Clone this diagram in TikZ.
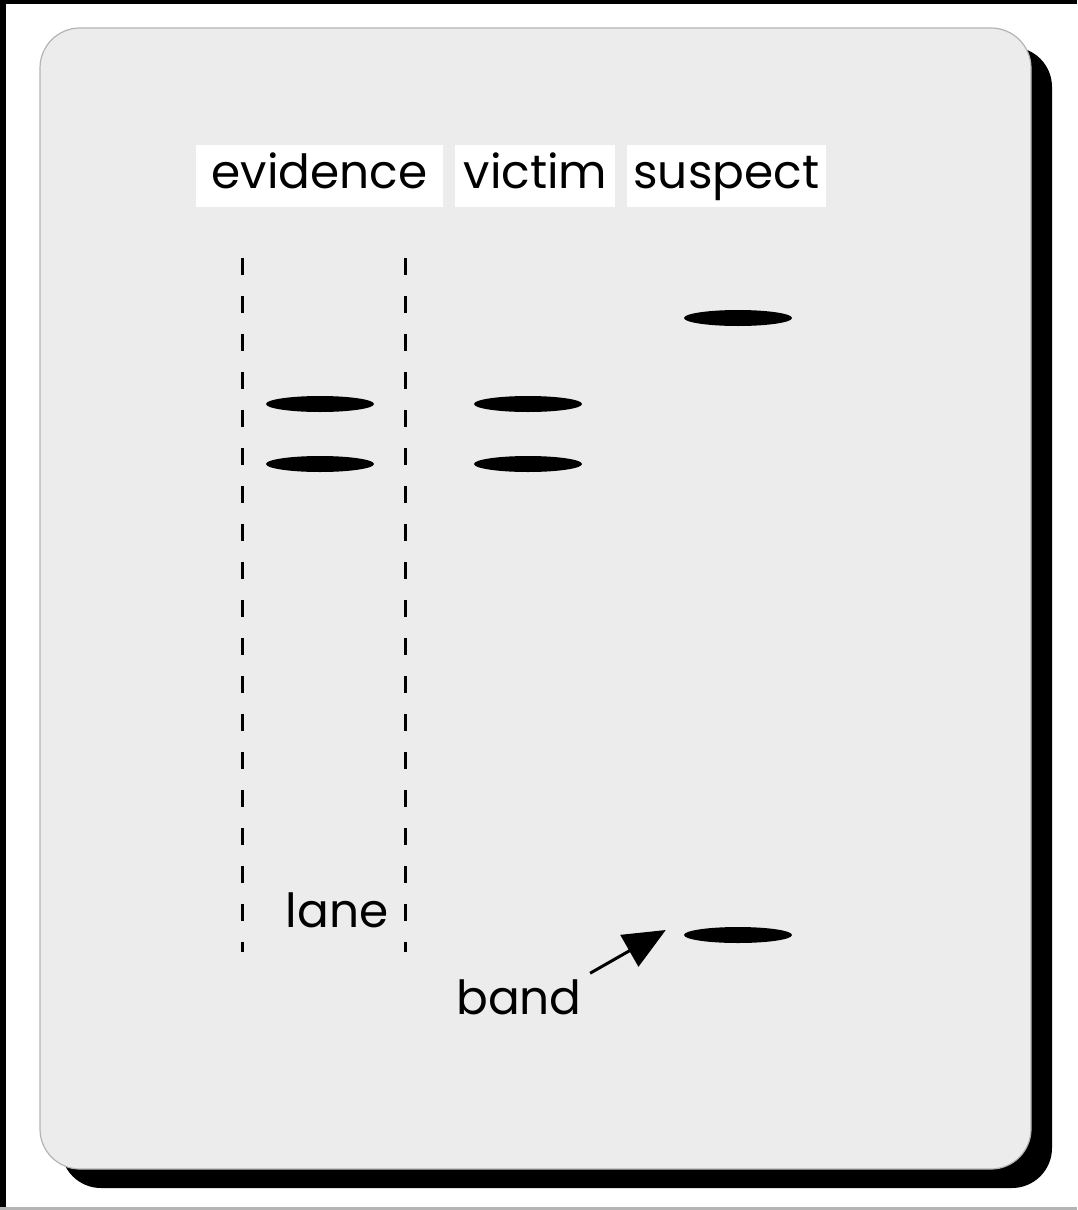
\documentclass[tikz,border=0pt]{standalone}
\usepackage{fontspec}
\setmainfont{Poppins}
\usetikzlibrary{arrows.meta,positioning,shapes.geometric}
\definecolor{panelgray}{HTML}{ECECEC}
\definecolor{edgegray}{HTML}{B4B4B4}

\begin{document}
\begin{tikzpicture}[x=1pt, y=-1pt,
      node distance=11pt,
      lanebox/.style={fill=white, minimum height=62pt, inner sep=0pt, text height=34pt, text depth=10pt, font=\fontsize{47}{47}\selectfont},
      txt/.style={inner sep=3pt, font=\fontsize{47}{47}\selectfont},
      bandmark/.style={ellipse, fill=black, minimum width=108pt, minimum height=16pt, inner sep=0pt},
      laneline/.style={line width=3pt, dash pattern=on 17pt off 21pt},
      arr/.style={-{Triangle[length=42pt, width=36pt]}, line width=3pt}
    ]
      \useasboundingbox (0,0) rectangle (1077,1210);
      \fill[white] (0,0) rectangle (1077,1210);
      % frame of the screenshot
      \fill[black] (0,0) rectangle (6,1210);
      \fill[black] (0,0) rectangle (1077,4);
      \fill[edgegray] (0,1207) rectangle (1077,1210);
      % panel and its shadow
      \fill[black, rounded corners=40pt] (61,47) rectangle (1052,1188);
      \draw[edgegray, fill=panelgray, line width=1.2pt, rounded corners=40pt] (40,28) rectangle (1031,1169);
      % lane headings
      \node[lanebox, minimum width=247pt] (evidence) at (319.5,176) {evidence};
      \node[lanebox, minimum width=160pt, right=12pt of evidence] (victim) {victim};
      \node[lanebox, minimum width=199pt, right=of victim] (suspect) {suspect};
      % lane borders
      \draw[laneline] (242,258) -- (242,952);
      \draw[laneline] (405,258) -- (405,952);
      % bands
      \node[bandmark] (ev1) at (320,404) {};
      \node[bandmark] (ev2) at (320,464) {};
      \node[bandmark] (vi1) at (528,404) {};
      \node[bandmark] (vi2) at (528,464) {};
      \node[bandmark] (su1) at (738,318) {};
      \node[bandmark] (su2) at (738,935) {};
      % labels
      \node[txt] (lane) at (337,910) {lane};
      \node[txt] (bandlbl) at (519,997) {band};
      \draw[arr, shorten <=6pt] (bandlbl.north east) -- ([xshift=-18pt, yshift=5pt]su2.west);
    \end{tikzpicture}
\end{document}
